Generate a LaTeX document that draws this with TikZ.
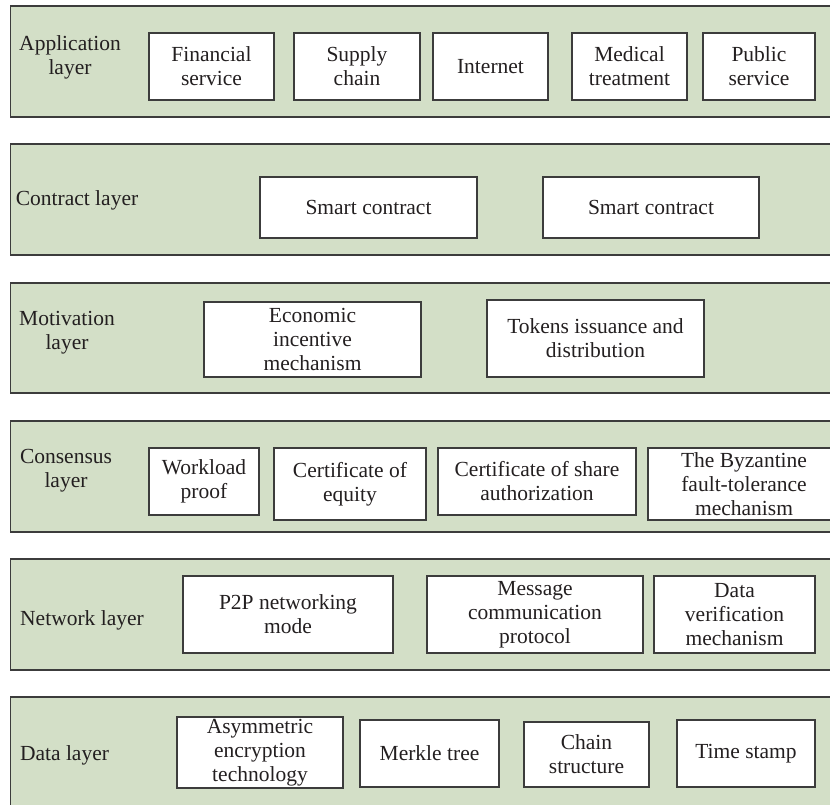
\documentclass[tikz,border=0pt]{standalone}
\usepackage{fontspec}
\setmainfont{Liberation Serif}
\definecolor{layerfill}{RGB}{211,223,199}
\definecolor{edge}{RGB}{60,60,60}
\definecolor{ink}{RGB}{35,31,32}
\tikzset{
  layerbox/.style={draw=edge, line width=1.3pt, fill=layerfill, anchor=north west, inner sep=0pt, outer sep=0pt},
  ibox/.style={draw=edge, line width=1.2pt, fill=white, inner sep=1pt, outer sep=0pt, align=center, text=ink,
    font=\fontsize{21.5pt}{24pt}\selectfont},
  lab/.style={align=center, inner sep=0pt, text=ink, font=\fontsize{21.5pt}{24pt}\selectfont}
}
\begin{document}
\begin{tikzpicture}[x=1pt,y=-1pt]
\useasboundingbox (0,0) rectangle (830,805);
\clip (0,0) rectangle (830,805);
% layers
\node[layerbox, minimum width=900pt, minimum height=111pt] (L1) at (10.5,6) {};
\node[layerbox, minimum width=900pt, minimum height=111pt] (L2) at (10.5,144) {};
\node[layerbox, minimum width=900pt, minimum height=110pt] (L3) at (10.5,283) {};
\node[layerbox, minimum width=900pt, minimum height=111pt] (L4) at (10.5,421) {};
\node[layerbox, minimum width=900pt, minimum height=111pt] (L5) at (10.5,559) {};
\node[layerbox, minimum width=900pt, minimum height=130pt] (L6) at (10.5,697) {};
% labels
\node[lab] (t1) at (70,57) {Application\\layer};
\node[lab] (t2) at (77,200) {Contract layer};
\node[lab] (t3) at (67,333) {Motivation\\layer};
\node[lab] (t4) at (66,471) {Consensus\\layer};
\node[lab] (t5) at (82,620) {Network layer};
\node[lab] (t6) at (64.5,755) {Data layer};
% application row
\node[ibox, minimum width=125pt, minimum height=67pt] (fin) at (211.5,66.5) {Financial\\service};
\node[ibox, minimum width=126pt, minimum height=67pt] (sup) at (357,66.5) {Supply\\chain};
\node[ibox, minimum width=115pt, minimum height=67pt] (int) at (490.5,66.5) {Internet};
\node[ibox, minimum width=115pt, minimum height=67pt] (med) at (629.5,66.5) {Medical\\treatment};
\node[ibox, minimum width=112pt, minimum height=67pt] (pub) at (759,66.5) {Public\\service};
% contract row
\node[ibox, minimum width=217pt, minimum height=61pt] (sc1) at (368.5,207.5) {Smart contract};
\node[ibox, minimum width=216pt, minimum height=61pt] (sc2) at (651,207.5) {Smart contract};
% motivation row
\node[ibox, minimum width=217pt, minimum height=75pt] (eco) at (312.5,339.5) {Economic\\incentive\\mechanism};
\node[ibox, minimum width=217pt, minimum height=77pt] (tok) at (595.5,338.5) {Tokens issuance and\\distribution};
% consensus row
\node[ibox, minimum width=110pt, minimum height=67pt] (wp) at (204,481.5) {Workload\\proof};
\node[ibox, minimum width=152pt, minimum height=72pt] (ce) at (350,484) {Certificate of\\equity};
\node[ibox, minimum width=198pt, minimum height=67pt] (cs) at (537,481.5) {Certificate of share\\authorization};
\node[ibox, minimum width=192pt, minimum height=72pt] (bz) at (744,484) {The Byzantine\\fault-tolerance\\mechanism};
% network row
\node[ibox, minimum width=210pt, minimum height=77pt] (p2p) at (288,614.5) {P2P networking\\mode};
\node[ibox, minimum width=216pt, minimum height=77pt] (msg) at (535,614.5) {Message\\communication\\protocol};
\node[ibox, minimum width=161pt, minimum height=77pt] (dv) at (734.5,614.5) {Data\\verification\\mechanism};
% data row
\node[ibox, minimum width=166pt, minimum height=71pt] (asy) at (260,752.5) {Asymmetric\\encryption\\technology};
\node[ibox, minimum width=139pt, minimum height=67pt] (mk) at (429.5,753.5) {Merkle tree};
\node[ibox, minimum width=125pt, minimum height=65pt] (ch) at (586.5,754.5) {Chain\\structure};
\node[ibox, minimum width=138pt, minimum height=67pt] (ts) at (746,753.5) {Time stamp};
\end{tikzpicture}
\end{document}
